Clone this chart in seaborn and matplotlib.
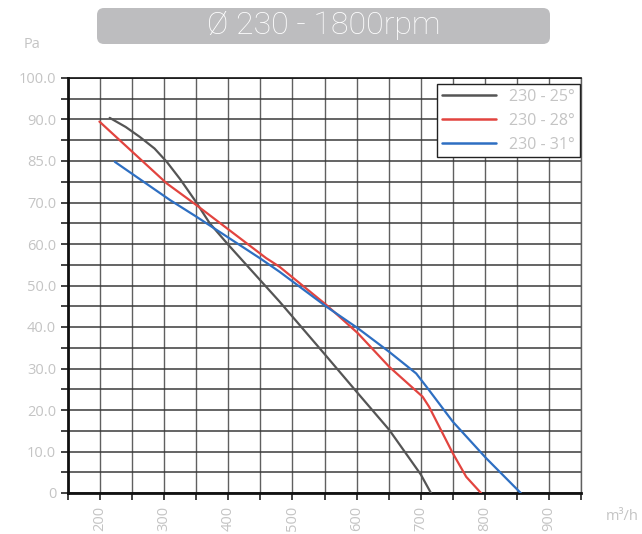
import numpy as np
import pandas as pd
import matplotlib
matplotlib.use("Agg")
import matplotlib.pyplot as plt
from matplotlib.patches import FancyBboxPatch
from matplotlib.transforms import IdentityTransform
from matplotlib.ticker import MultipleLocator, FixedLocator
import seaborn as sns

# Fan curves: airflow (m³/h) vs static pressure (Pa)
flow_25 = [215, 240, 262, 285, 304, 325, 348, 371, 400, 480, 500, 550, 600, 651, 700, 716]
pres_25 = [90.4, 88.2, 85.8, 83.0, 79.8, 75.6, 70.5, 65.0, 59.8, 46.1, 42.5, 33.5, 24.4, 15.2, 4.5, 0.0]

flow_28 = [199, 304, 350, 459, 480, 553, 602, 651, 703, 713, 750, 771, 794]
pres_28 = [89.5, 74.6, 69.4, 56.6, 54.5, 45.3, 38.5, 30.4, 23.2, 20.8, 9.6, 3.9, 0.0]

flow_31 = [223, 309, 350, 449, 480, 553, 602, 651, 693, 711, 750, 802, 856]
pres_31 = [79.8, 70.6, 66.6, 56.6, 53.3, 44.9, 39.7, 34.0, 28.8, 25.2, 17.2, 8.4, 0.0]

series_names = ["230 - 25°", "230 - 28°", "230 - 31°"]
series_colors = ["#555555", "#e2443f", "#2e6fc2"]

y_tick_pos = [0, 10, 20, 30, 40, 50, 60, 70, 80, 90, 100]
y_tick_labels = ["0", "10.0", "20.0", "30.0", "40.0", "50.0", "60.0", "70.0", "85.0", "90.0", "100.0"]
x_tick_pos = [200, 300, 400, 500, 600, 700, 800, 900]
x_tick_labels = ["200", "300", "400", "500", "600", "700", "800", "900"]

df = pd.concat([
    pd.DataFrame({"flow": f, "pressure": p, "curve": n})
    for f, p, n in zip([flow_25, flow_28, flow_31],
                       [pres_25, pres_28, pres_31], series_names)
], ignore_index=True)

sns.set_style("white")
plt.rcParams["font.family"] = ["Open Sans", "DejaVu Sans"]

W, H = 642, 534
fig = plt.figure(figsize=(W / 100, H / 100), dpi=100)
ax = fig.add_axes([68 / W, 1 - 493 / H, (581 - 68) / W, (493 - 78) / H])

sns.lineplot(data=df, x="flow", y="pressure", hue="curve",
             palette=dict(zip(series_names, series_colors)),
             sort=False, estimator=None, linewidth=1.6, ax=ax, zorder=3)

ax.set_xlim(150, 950)
ax.set_ylim(0, 100)

ax.xaxis.set_major_locator(FixedLocator(x_tick_pos))
ax.xaxis.set_minor_locator(MultipleLocator(50))
ax.yaxis.set_major_locator(FixedLocator(y_tick_pos))
ax.yaxis.set_minor_locator(MultipleLocator(5))
ax.set_xticklabels(x_tick_labels, rotation=90)
ax.set_yticklabels(y_tick_labels)

label_color = "#c4c4c4"
ax.tick_params(axis="both", which="both", direction="out", length=5,
               width=1.3, color="#333333", labelcolor=label_color,
               labelsize=10.5, bottom=True, left=True)
ax.tick_params(axis="x", which="major", pad=4)

ax.grid(True, which="both", axis="y", color="#3a3a3a", linewidth=1.1, zorder=1)
ax.grid(True, which="both", axis="x", color="#606060", linewidth=1.0, zorder=1)
ax.set_axisbelow(True)

for side in ["left", "bottom"]:
    ax.spines[side].set_color("#111111")
    ax.spines[side].set_linewidth(2.0)
ax.spines["top"].set_color("#111111")
ax.spines["top"].set_linewidth(1.2)
ax.spines["right"].set_color("#606060")
ax.spines["right"].set_linewidth(1.0)

ax.set_xlabel("")
ax.set_ylabel("")

leg = ax.legend(loc="upper right", bbox_to_anchor=(0.998, 0.986),
                frameon=True, fancybox=False, prop={"size": 11.5},
                handlelength=3.4, handletextpad=0.85, labelspacing=0.5,
                borderpad=0.3, borderaxespad=0.0)
leg.get_frame().set_edgecolor("#222222")
leg.get_frame().set_linewidth(1.0)
leg.get_frame().set_alpha(1.0)
for t in leg.get_texts():
    t.set_color(label_color)
for line in leg.get_lines():
    line.set_linewidth(1.8)

# Header badge
badge = FancyBboxPatch((97, H - 44), 453, 36,
                       boxstyle="round,pad=0,rounding_size=7",
                       transform=IdentityTransform(),
                       facecolor="#bdbdbf", edgecolor="none")
fig.patches.append(badge)
fig.text((97 + 550) / 2 / W, 1 - 26 / H, "Ø 230 - 1800rpm",
         ha="center", va="center", color="white", fontsize=23,
         family=["Roboto", "DejaVu Sans"], fontweight="light")

fig.text(24 / W, 1 - 45 / H, "Pa", color=label_color, fontsize=10.5,
         ha="left", va="center")
fig.text(606 / W, 1 - 517 / H, "m³/h", color=label_color, fontsize=10.5,
         ha="left", va="center")

fig.savefig("out.png", dpi=100, facecolor="white")
